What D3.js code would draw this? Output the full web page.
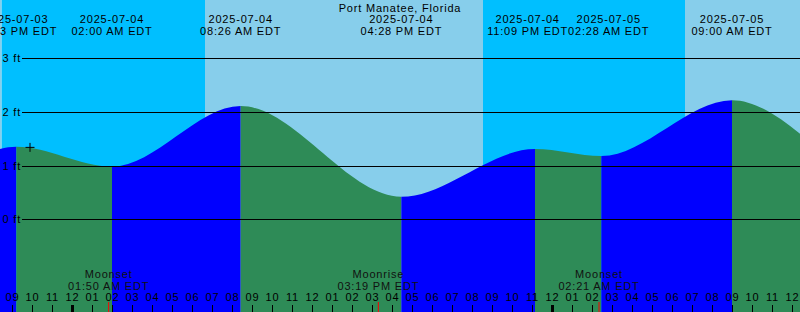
<!DOCTYPE html>
<html><head><meta charset="utf-8">
<script src="https://cdn.jsdelivr.net/npm/d3@7"></script>
<style>html,body{margin:0;padding:0;background:#fff}svg{display:block}</style>
</head><body>
<script>
const title = "Port Manatee, Florida";
// tide extremes (local EDT); the two at each end lie outside the view and only shape the curve ends
const tideTimes   = ["2025-07-03 07:30","2025-07-03 14:40","2025-07-03 21:13","2025-07-04 02:00","2025-07-04 08:26","2025-07-04 16:28","2025-07-04 23:09","2025-07-05 02:28","2025-07-05 09:00","2025-07-05 17:20","2025-07-06 00:10"];
const tideHeights = [2.00, 0.40, 1.35, 0.98, 2.11, 0.42, 1.31, 1.18, 2.22, 0.50, 1.30];
// sun: night/day bands
const sunTimes = ["2025-07-03 20:29","2025-07-04 06:39","2025-07-04 20:33","2025-07-05 06:39"];
const sunKinds = ["set","rise","set","rise"];
// moon events
const moonTimes = ["2025-07-04 01:50","2025-07-04 15:19","2025-07-05 02:21"];
const moonKinds = ["Moonset","Moonrise","Moonset"];
const heightTicks = [0, 1, 2, 3];
const viewStart = "2025-07-03 20:24", viewEnd = "2025-07-05 12:24";
const markerTime = "2025-07-03 21:54", markerHeight = 1.34;

const W = 800, H = 312;
const parse = d3.timeParse("%Y-%m-%d %H:%M");
const FONT = "Liberation Sans";

const svg = d3.select("body").append("svg").attr("width", W).attr("height", H)
  .style("font-family", FONT).style("font-size", "11px").style("letter-spacing", "0.8px");

const x = d3.scaleTime().domain([parse(viewStart), parse(viewEnd)]).range([0, W]);
const y = d3.scaleLinear().domain([0, 3]).range([219.3, 58.3]);

// sky background
const night = "#00BFFF", day = "#87CEEB";
const sunDates = sunTimes.map(parse);
const bands = [];
let prev = x.domain()[0], prevKind = sunKinds[0] === "set" ? "day" : "night";
sunDates.forEach((d, i) => {
  bands.push({a: prev, b: d, kind: prevKind});
  prev = d; prevKind = sunKinds[i] === "set" ? "night" : "day";
});
bands.push({a: prev, b: x.domain()[1], kind: prevKind});
svg.append("g").selectAll("rect").data(bands).join("rect")
  .attr("x", d => x(d.a)).attr("width", d => Math.max(0, x(d.b) - x(d.a)))
  .attr("y", 0).attr("height", H)
  .attr("fill", d => d.kind === "night" ? night : day);

// tide area
const tides = tideTimes.map((t, i) => ({t: parse(t), h: tideHeights[i]}));
const area = d3.area().x(d => x(d.t)).y0(H).y1(d => y(d.h)).curve(d3.curveMonotoneX);
svg.append("clipPath").attr("id", "tideclip").append("path").attr("d", area(tides));
const segs = d3.pairs(tides).map(([a, b]) => ({a, b, rising: b.h > a.h}));
svg.append("g").attr("clip-path", "url(#tideclip)").selectAll("rect").data(segs).join("rect")
  .attr("x", d => x(d.a.t)).attr("width", d => x(d.b.t) - x(d.a.t))
  .attr("y", 0).attr("height", H)
  .attr("fill", d => d.rising ? "#0000FF" : "#2E8B57");

// height grid
const gy = svg.append("g");
gy.selectAll("line").data(heightTicks).join("line")
  .attr("x1", 22).attr("x2", W).attr("y1", d => Math.round(y(d)) + 0.5).attr("y2", d => Math.round(y(d)) + 0.5)
  .attr("stroke", "#000").attr("stroke-width", 1);
gy.selectAll("text").data(heightTicks).join("text")
  .attr("x", 2.5).attr("y", d => y(d) + 4).attr("fill", "#000").text(d => d + " ft");

// marker
const mx = x(parse(markerTime)), my = y(markerHeight);
svg.append("path").attr("d", `M${mx-4.5},${my}H${mx+4.5}M${mx},${my-4.5}V${my+4.5}`)
  .attr("stroke", "#000").attr("stroke-width", 1).attr("fill", "none");

// title
svg.append("text").attr("x", W/2).attr("y", 12).attr("text-anchor", "middle").attr("fill", "#000").text(title);

// extreme labels
const fDate = d3.timeFormat("%Y-%m-%d"), fTime = d3.timeFormat("%I:%M %p EDT");
const shown = tides.filter(d => d.t >= x.domain()[0] && d.t <= x.domain()[1]);
const lg = svg.append("g").selectAll("g").data(shown).join("g");
lg.append("text").attr("y", 23).attr("text-anchor", "middle").text(d => fDate(d.t));
lg.append("text").attr("y", 35).attr("text-anchor", "middle").text(d => fTime(d.t));
const info = [];
lg.each(function(d) {
  const w = d3.max(d3.select(this).selectAll("text").nodes(), n => n.getComputedTextLength());
  info.push({g: this, cx: x(d.t), w});
});
for (let iter = 0; iter < 20; iter++) {
  for (let i = 0; i < info.length - 1; i++) {
    const a = info[i], b = info[i+1];
    const ov = (a.cx + a.w/2) - (b.cx - b.w/2);
    if (ov > 0.01) { a.cx -= ov/2; b.cx += ov/2; }
  }
}
info.forEach(d => d3.select(d.g).attr("transform", `translate(${d.cx},0)`));
lg.selectAll("text").attr("fill", "#000");

// hour axis
const axis = d3.axisTop(x).ticks(d3.timeHour.every(1)).tickFormat(d3.timeFormat("%I"))
  .tickSize(7).tickPadding(4);
const ax = svg.append("g").attr("transform", `translate(0,${H})`).call(axis);
ax.select(".domain").remove();
ax.selectAll("text").attr("font-family", FONT).attr("font-size", 11).attr("fill", "#000");
ax.selectAll(".tick line").attr("stroke", "#000")
  .attr("stroke-width", d => d.getHours() === 0 ? 3 : 1);

// moon events
const moons = moonTimes.map((t, i) => ({t: parse(t), kind: moonKinds[i]}));
const mg = svg.append("g").selectAll("g").data(moons).join("g")
  .attr("transform", d => `translate(${x(d.t)},0)`);
mg.append("line").attr("y1", 302).attr("y2", H).attr("stroke", "#FF0000").attr("stroke-width", 1);
mg.append("text").attr("y", 278).attr("text-anchor", "middle").attr("fill", "#111").text(d => d.kind);
mg.append("text").attr("y", 289.5).attr("text-anchor", "middle").attr("fill", "#111").text(d => fTime(d.t));
</script>
</body></html>
